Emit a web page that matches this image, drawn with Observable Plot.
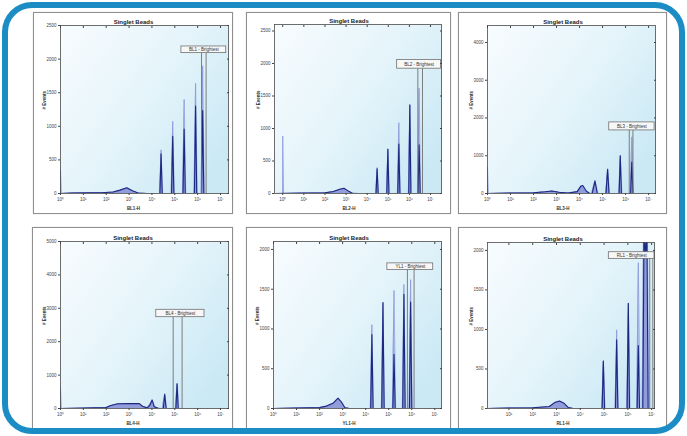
<!DOCTYPE html>
<html><head><meta charset="utf-8">
<script src="https://cdn.jsdelivr.net/npm/d3@7"></script>
<script src="https://cdn.jsdelivr.net/npm/@observablehq/plot@0.6"></script>
<style>
html,body{margin:0;padding:0;background:#fff;}
#wrap{position:relative;width:687px;height:436px;overflow:hidden;background:#fff;font-family:"Liberation Sans",Arial,sans-serif;}
.panel{position:absolute;box-sizing:border-box;border:1px solid #8f8f8f;background:#fff;box-shadow:0 0 1px #c0c0c0;}
.panel svg{display:block;}
#ring{position:absolute;left:2px;top:2px;width:683px;height:432px;box-sizing:border-box;border:6px solid #1b8cc4;border-radius:30px;pointer-events:none;}
</style></head><body><div id="wrap"></div><script>
// ---------------- data ----------------
const titles = ["Singlet Beads","Singlet Beads","Singlet Beads","Singlet Beads","Singlet Beads","Singlet Beads"];
const xLabels = ["BL1-H","BL2-H","BL3-H","BL4-H","YL1-H","RL1-H"];
const yLabel = "# Events";
const gateLabels = ["BL1 - Brightest","BL2 - Brightest","BL3 - Brightest","BL4 - Brightest","YL1 - Brightest","RL1 - Brightest"];
const xTickLabels = ["10⁰","10¹","10²","10³","10⁴","10⁵","10⁶","10⁷"];
const xTickExps = [[0,1,2,3,4,5,6,7],[0,1,2,3,4,5,6,7],[0,1,2,3,4,5,6,7],[0,1,2,3,4,5,6,7],[0,1,2,3,4,5,6,7],[1,2,3,4,5,6,7]];
const yTicks = [[0,500,1000,1500,2000,2500],[0,500,1000,1500,2000,2500],[0,1000,2000,3000,4000],[0,1000,2000,3000,4000,5000],[0,500,1000,1500,2000],[0,500,1000,1500,2000]];
const yMax = [2500,2600,4450,5000,2100,2100];
const xExpRange = [[0,7.35],[-0.39,7.52],[0,7.3],[0,7.35],[0,7.29],[0.1,7.12]];

// histogram points: [log10(channel value), events]
const light1 = [[0,0],[0,350],[0.04,0],[0.5,6],[1.2,8],[1.8,10],[2.3,18],[2.6,40],[2.9,75],[3.15,35],[3.4,5],[3.7,0],[4.33,0],[4.4,650],[4.47,0],[4.84,0],[4.91,1075],[4.98,0],[5.34,0],[5.41,1400],[5.48,0],[5.84,0],[5.91,1640],[5.98,0],[6.15,0],[6.22,1900],[6.29,0],[7.35,0]];
const dark1 = [[0,0],[0.5,8],[1.2,10],[1.8,12],[2.3,22],[2.6,50],[2.9,85],[3.15,40],[3.4,8],[3.8,0],[4.35,0],[4.4,590],[4.45,0],[4.86,0],[4.91,850],[4.96,0],[5.36,0],[5.41,960],[5.46,0],[5.86,0],[5.91,1300],[5.96,0],[6.17,0],[6.22,1235],[6.27,0],[7.35,0]];
const light2 = [[0,0],[0,885],[0.04,0],[1,5],[2,10],[2.4,25],[2.7,60],[2.9,72],[3.1,35],[3.3,5],[3.6,0],[4.4,0],[4.47,400],[4.54,0],[4.91,0],[4.98,690],[5.05,0],[5.43,0],[5.5,1090],[5.57,0],[5.95,0],[6.02,1370],[6.09,0],[6.39,0],[6.46,1620],[6.53,0],[7.52,0]];
const dark2 = [[-0.39,0],[1,6],[2,10],[2.4,30],[2.7,65],[2.9,80],[3.1,40],[3.3,5],[3.6,0],[4.42,0],[4.47,380],[4.52,0],[4.93,0],[4.98,680],[5.03,0],[5.45,0],[5.5,760],[5.55,0],[5.97,0],[6.02,1360],[6.07,0],[6.41,0],[6.46,750],[6.51,0],[7.52,0]];
const light3 = [[0,0],[0,700],[0.04,0],[1,10],[2,20],[2.5,40],[2.8,60],[3.1,30],[3.5,10],[3.9,40],[4.05,170],[4.14,200],[4.3,40],[4.45,0],[4.52,0],[4.67,345],[4.8,0],[5.13,0],[5.22,655],[5.3,0],[5.7,0],[5.77,1010],[5.84,0],[6.2,0],[6.27,1500],[6.34,0],[7.3,0]];
const dark3 = [[0,0],[1,10],[2,20],[2.5,45],[2.8,65],[3.1,35],[3.5,12],[3.9,50],[4.05,190],[4.14,210],[4.3,60],[4.45,0],[4.55,0],[4.67,330],[4.77,0],[5.15,0],[5.22,640],[5.28,0],[5.72,0],[5.77,1000],[5.82,0],[6.22,0],[6.27,830],[6.32,0],[7.3,0]];
const light4 = [[0,0],[0,600],[0.04,0],[1,10],[2,30],[2.2,80],[2.5,130],[3.0,140],[3.4,140],[3.6,60],[3.8,20],[3.9,120],[4.01,270],[4.12,60],[4.25,10],[4.45,0],[4.56,450],[4.65,0],[5.02,0],[5.1,750],[5.18,0],[7.35,0]];
const dark4 = [[0,0],[1,10],[2,30],[2.2,90],[2.5,140],[3.0,150],[3.45,145],[3.6,60],[3.8,20],[3.92,110],[4.01,250],[4.1,50],[4.3,0],[4.5,0],[4.56,420],[4.62,0],[5.05,0],[5.1,740],[5.15,0],[7.35,0]];
const light5 = [[0,0],[1,5],[2,10],[2.3,25],[2.6,60],[2.8,120],[2.95,70],[3.1,10],[3.3,0],[4.2,0],[4.27,1055],[4.34,0],[4.68,0],[4.75,1340],[4.82,0],[5.16,0],[5.23,1485],[5.3,0],[5.59,0],[5.66,1560],[5.73,0],[5.88,0],[5.95,1620],[6.02,0],[7.29,0]];
const dark5 = [[0,0],[1,5],[2,12],[2.3,30],[2.6,70],[2.8,130],[2.95,80],[3.1,10],[3.3,0],[4.22,0],[4.27,930],[4.32,0],[4.7,0],[4.75,1330],[4.8,0],[5.18,0],[5.23,680],[5.28,0],[5.61,0],[5.66,1435],[5.71,0],[5.9,0],[5.95,1340],[6.0,0],[7.29,0]];
const light6 = [[0.1,0],[1,5],[2,8],[2.7,20],[2.95,70],[3.13,88],[3.3,60],[3.5,10],[3.7,0],[4.9,0],[4.97,605],[5.04,0],[5.46,0],[5.53,995],[5.6,0],[5.95,0],[6.02,1335],[6.09,0],[6.37,0],[6.44,1845],[6.51,0],[6.6,0],[6.66,2400],[6.82,2400],[6.88,0],[7.12,0]];
const dark6 = [[0.1,0],[1,6],[2,10],[2.7,25],[2.95,80],[3.13,95],[3.3,70],[3.5,12],[3.7,0],[4.92,0],[4.97,600],[5.02,0],[5.48,0],[5.53,870],[5.58,0],[5.97,0],[6.02,1330],[6.07,0],[6.39,0],[6.44,795],[6.49,0],[6.63,0],[6.68,2300],[6.74,1900],[6.8,2300],[6.85,0],[7.12,0]];
const lights = [light1,light2,light3,light4,light5,light6];
const darks = [dark1,dark2,dark3,dark4,dark5,dark6];
// gate: two marker positions (log10) and label box [x1exp, x2exp, yLow, yHigh]
const gates = [[6.17,6.37],[6.40,6.62],[6.16,6.32],[4.93,5.32],[5.81,6.10],[6.92,7.05]];
const boxes = [[5.29,7.25,2089,2188],[5.42,7.5,1920,2053],[5.29,7.26,1671,1883],[4.19,6.3,2734,2955],[4.94,6.93,1742,1825],[5.2,7.12,1893,1977]];

// ---------------- layout (page pixels) ----------------
const layout = [
  {f:[33,12,233,214], p:[60,25,228,193]},
  {f:[246,12,451,214], p:[274,24,441,193]},
  {f:[458,12,667,214], p:[487,25,655,193]},
  {f:[32,227,233,429], p:[60,241,228,408]},
  {f:[246,227,451,429], p:[273,241,441,408]},
  {f:[458,227,667,429], p:[487,242,654,408]}
];

const wrap = document.getElementById("wrap");
const px = d => 10 ** d[0], py = d => d[1];

layout.forEach((L, i) => {
  const W = L.f[2]-L.f[0], H = L.f[3]-L.f[1];
  const svgW = W-2, svgH = H-2;
  const ml = L.p[0]-L.f[0]-1, mr = L.f[2]-L.p[2]-1, mt = L.p[1]-L.f[1]-1, mb = L.f[3]-L.p[3]-1;
  const dxT = svgW/2 - (ml + svgW - mr)/2;
  const gid = "bg" + i;
  const defs = () => {
    const g = d3.create("svg:defs");
    const lg = g.append("linearGradient").attr("id", gid).attr("x1","0").attr("y1","0").attr("x2","1").attr("y2","0.7");
    lg.append("stop").attr("offset","0").attr("stop-color","#f8fcfe");
    lg.append("stop").attr("offset","0.55").attr("stop-color","#e4f4fa");
    lg.append("stop").attr("offset","1").attr("stop-color","#cbe9f5");
    return g.node();
  };
  const box = boxes[i];
  const chart = Plot.plot({
    width: svgW, height: svgH,
    marginLeft: ml, marginRight: mr, marginTop: mt, marginBottom: mb,
    style: {background: "white", fontFamily: "'Liberation Sans', Arial, sans-serif", fontSize: "4.5px", color: "#444", overflow: "visible"},
    x: {type: "log", domain: [10 ** xExpRange[i][0], 10 ** xExpRange[i][1]]},
    y: {domain: [0, yMax[i]]},
    marks: [
      defs,
      Plot.frame({fill: `url(#${gid})`}),
      Plot.areaY(lights[i], {x: px, y: py, fill: "#a9b3e7", clip: true}),
      Plot.lineY(lights[i], {x: px, y: py, stroke: "#8592d8", strokeWidth: 0.7, clip: true}),
      Plot.areaY(darks[i], {x: px, y: py, fill: "#7380cc", fillOpacity: 0.45, clip: true}),
      Plot.lineY(darks[i], {x: px, y: py, stroke: "#1c2780", strokeWidth: 1.1, clip: true}),
      Plot.ruleX(gates[i], {x: d => 10 ** d, y1: 0, y2: box[2], stroke: "#707070", strokeWidth: 0.9}),
      Plot.rect([box], {x1: b => 10 ** b[0], x2: b => 10 ** b[1], y1: b => b[2], y2: b => b[3], fill: "#f7f7f7", stroke: "#707070", strokeWidth: 0.8}),
      Plot.text([box], {x: b => 10 ** ((b[0]+b[1])/2), y: b => (b[2]+b[3])/2, text: () => gateLabels[i], fontSize: 4.5, fill: "#333"}),
      Plot.frame({stroke: "#4a4a4a", strokeWidth: 0.8}),
      Plot.axisX({ticks: xTickExps[i].map(e => 10 ** e), tickFormat: d => xTickLabels[Math.round(Math.log10(d))], tickSize: 2, tickPadding: 2, fontSize: 4.5, label: null}),
      Plot.axisX({anchor: "top", ticks: xTickExps[i].map(e => 10 ** e), tickFormat: () => "", tickSize: -2, label: null}),
      Plot.axisY({ticks: yTicks[i], tickFormat: d => String(d), tickSize: 2, tickPadding: 2, fontSize: 4.5, label: null}),
      Plot.axisY({anchor: "right", ticks: yTicks[i], tickFormat: () => "", tickSize: -2, label: null}),
      Plot.text([titles[i]], {frameAnchor: "top", dy: -6, dx: dxT, fontWeight: "bold", fontSize: 6, fill: "#222"}),
      Plot.text([xLabels[i]], {frameAnchor: "bottom", dy: 16, dx: dxT, fontSize: 4.5, fontWeight: "bold", fill: "#333"}),
      Plot.text([yLabel], {frameAnchor: "left", dx: -16, rotate: -90, fontSize: 4.5, fontWeight: "bold", fill: "#333"})
    ]
  });
  const div = document.createElement("div");
  div.className = "panel";
  div.style.left = L.f[0] + "px"; div.style.top = L.f[1] + "px";
  div.style.width = W + "px"; div.style.height = H + "px";
  div.appendChild(chart);
  wrap.appendChild(div);
});
const ring = document.createElement("div");
ring.id = "ring";
wrap.appendChild(ring);
</script></body></html>
